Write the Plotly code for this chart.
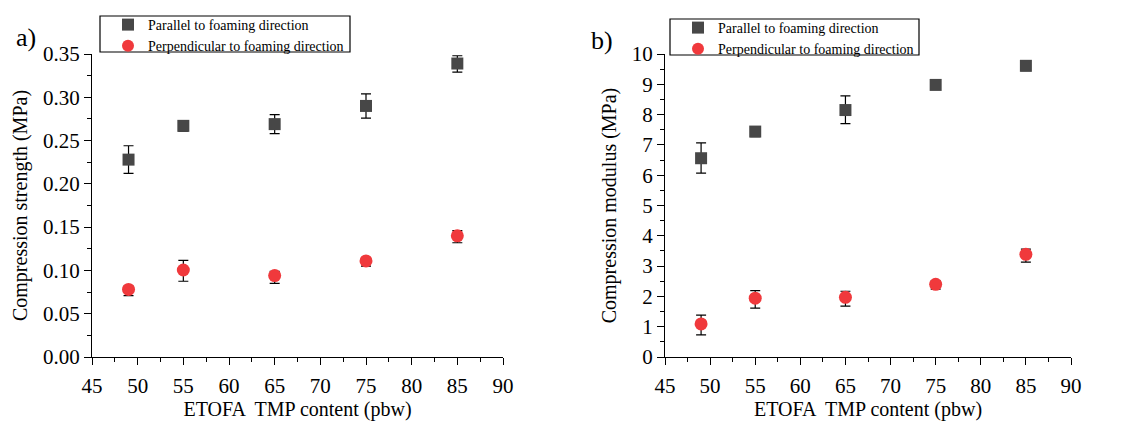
import plotly.graph_objects as go

x_vals = [49, 55, 65, 75, 85]

strength_par = [0.228, 0.267, 0.269, 0.290, 0.339]
strength_par_up = [0.016, 0.005, 0.011, 0.014, 0.009]
strength_par_dn = [0.016, 0.006, 0.011, 0.014, 0.010]
strength_perp = [0.078, 0.1005, 0.094, 0.111, 0.140]
strength_perp_up = [0.004, 0.011, 0.005, 0.0035, 0.006]
strength_perp_dn = [0.007, 0.013, 0.009, 0.006, 0.008]

modulus_par = [6.56, 7.44, 8.15, 8.98, 9.61]
modulus_par_up = [0.51, 0.12, 0.47, 0.14, 0.17]
modulus_par_dn = [0.49, 0.17, 0.45, 0.15, 0.16]
modulus_perp = [1.09, 1.94, 1.97, 2.40, 3.39]
modulus_perp_up = [0.29, 0.25, 0.20, 0.11, 0.17]
modulus_perp_dn = [0.36, 0.33, 0.29, 0.16, 0.26]

name_par = "Parallel to foaming direction"
name_perp = "Perpendicular to foaming direction"
x_title = "ETOFA  TMP content (pbw)"

FONT = "Liberation Serif"
SQ_COLOR = "#474747"
CI_COLOR = "#f0393c"
TICK_FS = 21
TITLE_FS = 20

W = 1127
H = 425
OFF = 8  # page body margin


def px(x):
    return (x - OFF) / W


def py(y):
    return 1 - (y - OFF) / H


fig = go.Figure()


def add(xa, ya, y, up, dn, name, symbol, color, size, legend):
    fig.add_trace(go.Scatter(
        x=x_vals, y=y, mode="markers", name=name,
        xaxis=xa, yaxis=ya, legend=legend,
        marker=dict(symbol=symbol, color=color, size=size, line=dict(width=0)),
        error_y=dict(type="data", symmetric=False, array=up, arrayminus=dn,
                     color="black", thickness=1.2, width=5),
    ))


add("x", "y", strength_par, strength_par_up, strength_par_dn, name_par, "square", SQ_COLOR, 12, "legend")
add("x", "y", strength_perp, strength_perp_up, strength_perp_dn, name_perp, "circle", CI_COLOR, 13, "legend")
add("x2", "y2", modulus_par, modulus_par_up, modulus_par_dn, name_par, "square", SQ_COLOR, 12, "legend2")
add("x2", "y2", modulus_perp, modulus_perp_up, modulus_perp_dn, name_perp, "circle", CI_COLOR, 13, "legend2")

ydom = [py(357), py(54)]

common_x = dict(range=[45, 90], dtick=5, tick0=45, ticks="outside", ticklen=7, tickwidth=1,
                tickcolor="black", showline=True, linecolor="black", linewidth=1.2,
                showgrid=False, zeroline=False, mirror=False, automargin=False,
                ticklabelstandoff=3,
                tickfont=dict(family=FONT, size=TICK_FS, color="black"),
                minor=dict(dtick=2.5, ticks="outside", ticklen=4, tickcolor="black", showgrid=False),
                title=dict(text=x_title, font=dict(family=FONT, size=TITLE_FS, color="black"), standoff=2))
common_y = dict(ticks="outside", ticklen=7, tickwidth=1, tickcolor="black",
                showline=True, linecolor="black", linewidth=1.2,
                showgrid=False, zeroline=False, mirror=False, automargin=False,
                tickfont=dict(family=FONT, size=TICK_FS, color="black"))

leg_common = dict(xanchor="left", yanchor="top", borderwidth=0, bgcolor="rgba(0,0,0,0)",
                  font=dict(family=FONT, size=14, color="black"),
                  tracegroupgap=0, itemsizing="constant")

fig.update_layout(
    width=W, height=H,
    margin=dict(l=0, r=0, t=0, b=0, autoexpand=False),
    paper_bgcolor="white", plot_bgcolor="white",
    font=dict(family=FONT, color="black"),
    xaxis=dict(domain=[px(92), px(503)], anchor="y", **common_x),
    yaxis=dict(domain=ydom, anchor="x", range=[0, 0.35], dtick=0.05, tickformat=".2f",
               minor=dict(dtick=0.025, ticks="outside", ticklen=4, tickcolor="black", showgrid=False),
               title=dict(text="Compression strength (MPa)", font=dict(family=FONT, size=TITLE_FS, color="black"), standoff=9),
               **common_y),
    xaxis2=dict(domain=[px(665), px(1071)], anchor="y2", **common_x),
    yaxis2=dict(domain=ydom, anchor="x2", range=[0, 10], dtick=1,
                minor=dict(dtick=0.5, ticks="outside", ticklen=4, tickcolor="black", showgrid=False),
                title=dict(text="Compression modulus (MPa)", font=dict(family=FONT, size=TITLE_FS, color="black"), standoff=9),
                **common_y),
    legend=dict(x=px(108), y=py(9), **leg_common),
    legend2=dict(x=px(678), y=py(12), **leg_common),
    shapes=[
        dict(type="rect", xref="paper", yref="paper", x0=px(100), x1=px(350), y0=py(52), y1=py(16),
             line=dict(color="black", width=1.2), fillcolor="rgba(0,0,0,0)", layer="below"),
        dict(type="rect", xref="paper", yref="paper", x0=px(670), x1=px(919), y0=py(55), y1=py(19),
             line=dict(color="black", width=1.2), fillcolor="rgba(0,0,0,0)", layer="below"),
    ],
    annotations=[
        dict(text="a)", x=px(14), y=py(37), xref="paper", yref="paper",
             xanchor="left", yanchor="middle", showarrow=False,
             font=dict(family=FONT, size=26, color="black")),
        dict(text="b)", x=px(589), y=py(40), xref="paper", yref="paper",
             xanchor="left", yanchor="middle", showarrow=False,
             font=dict(family=FONT, size=26, color="black")),
    ],
)

fig.write_html("out.html")
